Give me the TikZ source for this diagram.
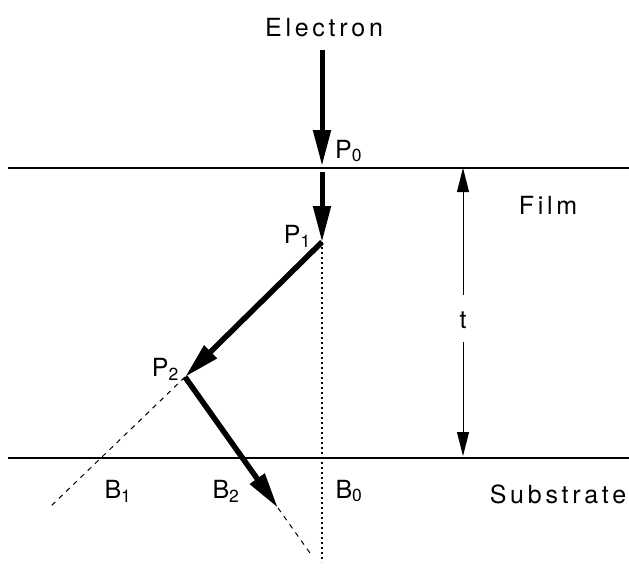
\documentclass[tikz,border=0pt]{standalone}
\usepackage{fontspec}
\setmainfont{TeX Gyre Heros}[LetterSpace=15]
\usetikzlibrary{arrows.meta}
\begin{document}
\begin{tikzpicture}[x=1pt,y=-1pt,
  lbl/.style={inner sep=0pt,font=\fontsize{25}{28}\selectfont},
  bigarrow/.style={line width=5pt,-{Triangle[length=36pt,width=17pt]}},
  thin/.style={line width=1.1pt},
  dimarrow/.style={line width=0.9pt,-{Triangle[length=24pt,width=12pt]}},
  dashline/.style={line width=1pt,dash pattern=on 5pt off 5pt},
  dotline/.style={line width=1.1pt,dash pattern=on 2pt off 3pt}]
\useasboundingbox (0,0) rectangle (629,570);
% surfaces
\coordinate (L1) at (8,168); \coordinate (R1) at (629,168);
\coordinate (L2) at (8,458); \coordinate (R2) at (629,458);
\draw[thin] (L1) -- (R1);
\draw[thin] (L2) -- (R2);
% points
\coordinate (S) at (322,50);
\coordinate (P0) at (322,166);
\coordinate (Q0) at (322,172);
\coordinate (P1) at (322,242);
\coordinate (P2) at (185,377);
\coordinate (E2) at (278,508);
\coordinate (D2) at (310,553);
\coordinate (D1) at (50,507);
\coordinate (D0) at (322,562);
% construction lines
\draw[dotline] (P1) -- (D0);
\draw[dashline] (P2) -- (D1);
\draw[dashline] (E2) -- (D2);
% electron path
\draw[bigarrow] (S) -- (P0);
\draw[bigarrow] (Q0) -- (P1);
\draw[bigarrow,line width=5.5pt] (P1) -- (P2);
\draw[bigarrow,line width=5.5pt] (P2) -- (E2);
% thickness
\node[lbl] (t) at (463,320) {t};
\coordinate (T1) at (463,168);
\coordinate (T2) at (463,456);
\draw[dimarrow] (463,295) -- (T1);
\draw[dimarrow] (463,342) -- (T2);
% labels
\node[lbl] (el) at (324,28) {Electron};
\node[lbl,anchor=west] (p0) at (335,151) {P\textsubscript{0}};
\node[lbl] (film) at (548,205) {Film};
\node[lbl,anchor=east] (p1) at (311,236) {P\textsubscript{1}};
\node[lbl,anchor=east] (p2) at (179,369) {P\textsubscript{2}};
\node[lbl] (b1) at (118,491) {B\textsubscript{1}};
\node[lbl] (b2) at (226,491) {B\textsubscript{2}};
\node[lbl] (b0) at (349,491) {B\textsubscript{0}};
\node[lbl] (sub) at (558,494) {Substrate};
\end{tikzpicture}
\end{document}
